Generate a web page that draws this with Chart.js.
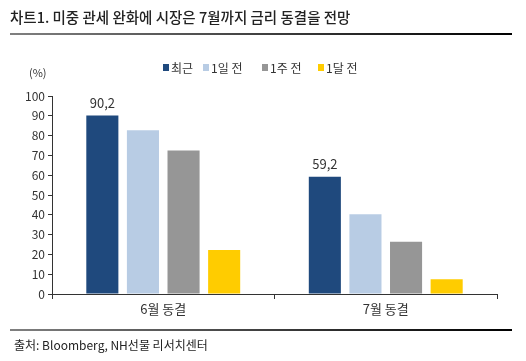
<!DOCTYPE html>
<html><head><meta charset="utf-8">
<script src="https://cdn.jsdelivr.net/npm/chart.js@4.4.1/dist/chart.umd.min.js"></script>
<style>html,body{margin:0;padding:0;background:#fff}#wrap{width:526px;height:361px;position:relative}</style>
</head><body><div id="wrap"><canvas id="c" width="526" height="361"></canvas></div>
<script>
const categories = ['6월 동결', '7월 동결'];
const seriesNames = ['최근', '1일 전', '1주 전', '1달 전'];
const recent = [90.2, 59.2];
const dayAgo = [82.7, 40.3];
const weekAgo = [72.5, 26.4];
const monthAgo = [22.2, 7.4];
const colors = ['#1F497D', '#B8CCE4', '#969696', '#FFCC00'];
const yTicks = [0,10,20,30,40,50,60,70,80,90,100];
const titleText = '차트1. 미중 관세 완화에 시장은 7월까지 금리 동결을 전망';
const sourceText = '출처: Bloomberg, NH선물 리서치센터';
const unitText = '(%)';
const FONT = '"Noto Sans CJK KR", "Noto Sans", sans-serif';

const deco = {
  id: 'deco',
  afterDraw(chart) {
    const ctx = chart.ctx;
    ctx.save();
    ctx.fillStyle = '#222';
    ctx.font = '500 14.5px ' + FONT;
    ctx.textBaseline = 'middle';
    ctx.textAlign = 'left';
    ctx.fillText(titleText, 10, 17);
    let g = ctx.createLinearGradient(10, 0, 512, 0);
    g.addColorStop(0, '#808080'); g.addColorStop(1, '#000');
    ctx.fillStyle = g;
    ctx.fillRect(10, 33, 502, 2);
    g = ctx.createLinearGradient(10, 0, 512, 0);
    g.addColorStop(0, '#808080'); g.addColorStop(1, '#000');
    ctx.fillStyle = g;
    ctx.fillRect(10, 329, 502, 2);
    ctx.fillStyle = '#222';
    ctx.font = '12px ' + FONT;
    ctx.fillText(sourceText, 14, 345);
    ctx.fillStyle = '#333';
    ctx.font = '11px ' + FONT;
    ctx.fillText(unitText, 29, 73);
    const lx = [163, 203, 262, 318];
    ctx.font = '12px ' + FONT;
    chart.data.datasets.forEach((ds, i) => {
      ctx.fillStyle = ds.backgroundColor;
      ctx.fillRect(lx[i], 64, 6, 7);
      ctx.fillStyle = '#333';
      ctx.fillText(ds.label, lx[i] + 8, 68);
    });
    const meta = chart.getDatasetMeta(0);
    ctx.font = '13px ' + FONT;
    ctx.textAlign = 'center';
    ctx.textBaseline = 'bottom';
    meta.data.forEach((bar, j) => {
      const v = chart.data.datasets[0].data[j];
      ctx.fillStyle = '#333';
      ctx.fillText(v.toFixed(1).replace('.', ','), bar.x, bar.y - 6);
    });
    ctx.restore();
  }
};

new Chart(document.getElementById('c'), {
  type: 'bar',
  data: {
    labels: categories,
    datasets: [recent, dayAgo, weekAgo, monthAgo].map((d, i) => ({
      label: seriesNames[i], data: d, backgroundColor: colors[i], borderWidth: 0
    }))
  },
  options: {
    responsive: false,
    animation: false,
    events: [],
    layout: { padding: { top: 96, left: 0, right: 29, bottom: 37 } },
    plugins: { legend: { display: false }, title: { display: false }, tooltip: { enabled: false } },
    datasets: { bar: { categoryPercentage: 0.73, barPercentage: 0.79 } },
    scales: {
      x: {
        afterFit(s) { s.height = 30; },
        border: { display: true, color: '#333', width: 1 },
        grid: { offset: true, drawOnChartArea: false, tickLength: 5, color: '#333' },
        ticks: { color: '#333', font: { family: FONT, size: 13 }, padding: 2 }
      },
      y: {
        min: 0, max: 100,
        afterFit(s) { s.width = 52; },
        afterBuildTicks(s) { s.ticks = yTicks.map(v => ({ value: v })); },
        border: { display: true, color: '#333', width: 1 },
        grid: { drawOnChartArea: false, tickLength: 4, color: '#333' },
        ticks: { color: '#333', font: { family: FONT, size: 12 }, padding: 3 }
      }
    }
  },
  plugins: [deco]
});
</script></body></html>
